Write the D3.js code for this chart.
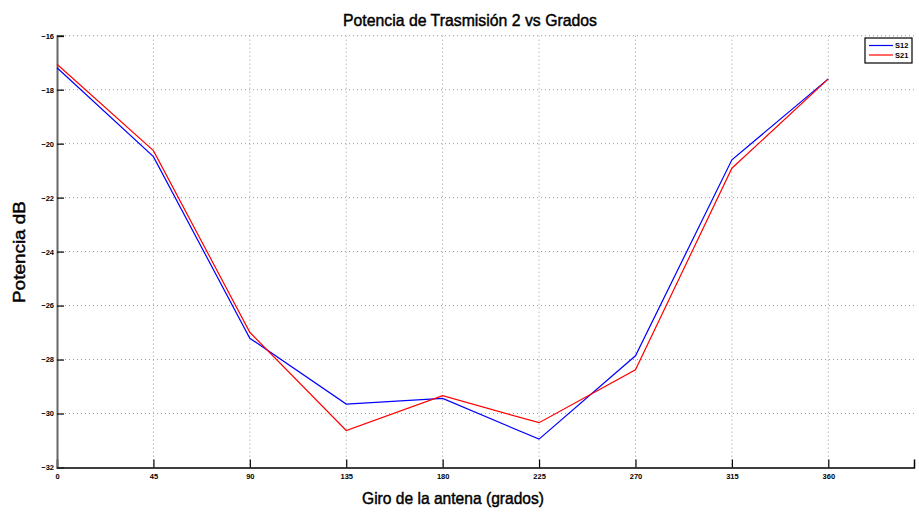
<!DOCTYPE html>
<html>
<head>
<meta charset="utf-8">
<script src="https://cdn.jsdelivr.net/npm/d3@7"></script>
<style>
  html, body { margin: 0; padding: 0; background: #fff; }
  svg { display: block; }
</style>
</head>
<body>
<svg id="chart" width="919" height="512"></svg>
<script>
// Angles of the antenna (degrees) and measured power (dB)
const angles = [0, 45, 90, 135, 180, 225, 270, 315, 360];
const s12 = [-17.19, -20.48, -27.21, -29.65, -29.44, -30.95, -27.86, -20.60, -17.60];
const s21 = [-17.06, -20.26, -26.99, -30.63, -29.34, -30.34, -28.38, -20.91, -17.60];
const xTicks = [0, 45, 90, 135, 180, 225, 270, 315, 360];
const yTicks = [-16, -18, -20, -22, -24, -26, -28, -30, -32];
const seriesNames = ["S12", "S21"];
const seriesColors = ["#0000ff", "#ff0000"];

const svg = d3.select("#chart");
const plotLeft = 57, plotRight = 914, plotTop = 35.7, plotBottom = 467.5;

const x = d3.scaleLinear().domain([0, 400]).range([plotLeft, plotRight]);
const y = d3.scaleLinear().domain([-32, -16]).range([plotBottom, plotTop]);

const fmt = v => (v < 0 ? "\u2212" + Math.abs(v) : String(v));
const labelFont = "Liberation Sans, Arial, sans-serif";

// Dotted grid
const grid = svg.append("g").attr("stroke", "#9a9a9a").attr("stroke-width", 1)
  .attr("stroke-dasharray", "1,3");
grid.selectAll("line.gx").data(xTicks.filter(d => d > 0)).join("line")
  .attr("x1", d => x(d)).attr("x2", d => x(d))
  .attr("y1", y(-16)).attr("y2", y(-32));
grid.selectAll("line.gy").data(yTicks.filter(d => d > -32)).join("line")
  .attr("x1", x(0)).attr("x2", plotRight)
  .attr("y1", d => y(d)).attr("y2", d => y(d));

// Axes
const xAxis = d3.axisBottom(x).tickValues(xTicks).tickSize(-8).tickPadding(10).tickFormat(d => d);
const gx = svg.append("g").attr("transform", `translate(0,${plotBottom})`).call(xAxis);
gx.select(".domain").attr("stroke", "#000").attr("stroke-width", 1.5);
gx.selectAll(".tick line").attr("stroke", "#000").attr("stroke-width", 1.2);
gx.selectAll(".tick text").attr("font-family", labelFont)
  .attr("font-size", 7.5).attr("font-weight", "bold").attr("fill", "#000").attr("dy", "0.2em");

const yAxis = d3.axisLeft(y).tickValues(yTicks).tickSize(-7).tickPadding(3).tickFormat(fmt);
const gy = svg.append("g").attr("transform", `translate(${plotLeft},0)`).call(yAxis);
gy.select(".domain").attr("stroke", "#666").attr("stroke-width", 2);
gy.selectAll(".tick line").attr("stroke", "#000").attr("stroke-width", 1.2);
gy.selectAll(".tick text").attr("font-family", labelFont)
  .attr("font-size", 7.5).attr("font-weight", "bold").attr("fill", "#000");

// Series lines
const line = d3.line().x((d, i) => x(angles[i])).y(d => y(d));
[s12, s21].forEach((vals, k) => {
  svg.append("path").datum(vals)
    .attr("fill", "none").attr("stroke", seriesColors[k]).attr("stroke-width", 1.2)
    .attr("d", line);
});

// Legend
const lg = svg.append("g").attr("transform", "translate(865,38)");
lg.append("rect").attr("width", 47).attr("height", 25)
  .attr("fill", "#fff").attr("stroke", "#000").attr("stroke-width", 1.2);
seriesNames.forEach((name, i) => {
  const yy = 7.5 + i * 9.5;
  lg.append("line").attr("x1", 4).attr("x2", 28).attr("y1", yy).attr("y2", yy)
    .attr("stroke", seriesColors[i]).attr("stroke-width", 1.2);
  lg.append("text").attr("x", 30).attr("y", yy + 2.8).text(name)
    .attr("font-family", labelFont).attr("font-size", 7.5)
    .attr("font-weight", "bold");
});

// Titles
function heading(sel, txt, len) {
  return sel.attr("text-anchor", "middle")
    .attr("font-family", labelFont).attr("font-size", 17).attr("fill", "#000")
    .attr("stroke", "#000").attr("stroke-width", 0.45)
    .attr("textLength", len).attr("lengthAdjust", "spacingAndGlyphs")
    .text(txt);
}
heading(svg.append("text").attr("x", 470).attr("y", 26), "Potencia de Trasmisión 2 vs Grados", 254);
heading(svg.append("text").attr("x", 453).attr("y", 504), "Giro de la antena (grados)", 182);
heading(svg.append("text").attr("transform", "translate(25,252) rotate(-90)"), "Potencia dB", 102);
</script>
</body>
</html>
